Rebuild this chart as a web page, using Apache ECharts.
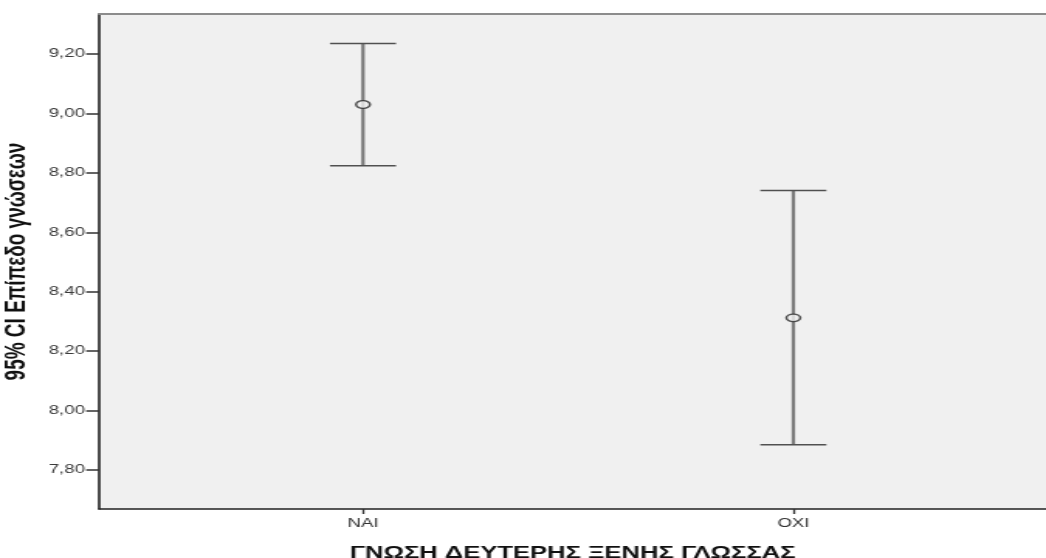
<!DOCTYPE html>
<html>
<head>
<meta charset="utf-8">
<script src="https://cdn.jsdelivr.net/npm/echarts@6/dist/echarts.min.js"></script>
<style>
  html, body { margin: 0; padding: 0; background: #ffffff; overflow: hidden; }
  /* chart drawn at a narrower width and widened horizontally */
  #chart { width: 675px; height: 558px; transform: scaleX(1.5496); transform-origin: 0 0; }
</style>
</head>
<body>
<div id="chart"></div>
<script>
// Group labels and 95% confidence intervals of the mean knowledge score
const categories = ['NAI', 'OXI'];
const means = [9.03, 8.312];
const lowerCI = [8.824, 7.885];
const upperCI = [9.235, 8.741];
const yTicks = [7.8, 8.0, 8.2, 8.4, 8.6, 8.8, 9.0, 9.2];
const xTitle = 'ΓΝΩΣΗ ΔΕΥΤΕΡΗΣ ΞΕΝΗΣ ΓΛΩΣΣΑΣ';
const yTitle = '95% CI Επίπεδο γνώσεων';

const FONT = '"Liberation Sans", Arial, sans-serif';
const xPos = categories.map((_, i) => i + 1);
const xMin = 0.387, xMax = 2.587;
const yMin = 7.6687, yMax = 9.3346;

const intervalData = categories.map((_, i) => [xPos[i], lowerCI[i], upperCI[i]]);
const meanData = categories.map((_, i) => [xPos[i], means[i]]);

const chart = echarts.init(document.getElementById('chart'), null, { renderer: 'canvas' });

chart.setOption({
  animation: false,
  backgroundColor: '#ffffff',
  grid: {
    left: 64, right: 0, top: 14, bottom: 49,
    outerBoundsMode: 'none',
    containLabel: false,
    show: true, backgroundColor: '#f0f0f0', borderWidth: 0
  },
  xAxis: [{
    type: 'value',
    min: xMin, max: xMax,
    name: xTitle,
    nameLocation: 'middle',
    nameGap: 36,
    nameTextStyle: { fontFamily: FONT, fontSize: 16.5, fontWeight: 'bold', color: '#111111' },
    axisLine: { show: true, lineStyle: { color: '#222222', width: 1.5 } },
    axisTick: { show: true, length: 5, customValues: xPos, lineStyle: { color: '#333333', width: 1.3 } },
    axisLabel: {
      customValues: xPos,
      margin: 9,
      fontFamily: FONT, fontSize: 12, color: '#333333',
      formatter: v => categories[Math.round(v) - 1] || ''
    },
    splitLine: { show: false }
  }, {
    // top border of the plotting area
    type: 'value',
    position: 'top',
    min: xMin, max: xMax,
    axisLine: { show: true, lineStyle: { color: '#8c8c8c', width: 2 } },
    axisTick: { show: false },
    axisLabel: { show: false },
    splitLine: { show: false }
  }],
  yAxis: {
    type: 'value',
    min: yMin, max: yMax,
    name: yTitle,
    nameLocation: 'middle',
    nameGap: 43,
    nameRotate: 90,
    nameTextStyle: { fontFamily: FONT, fontSize: 19, fontWeight: 'bold', color: '#111111' },
    axisLine: { show: true, lineStyle: { color: '#222222', width: 1.6 } },
    axisTick: { show: true, length: 8.4, customValues: yTicks, lineStyle: { color: '#333333', width: 1.5 } },
    axisLabel: {
      customValues: yTicks,
      margin: 9.2,
      fontFamily: FONT, fontSize: 12, color: '#3a3a3a',
      formatter: v => v.toFixed(2).replace('.', ',')
    },
    splitLine: { show: false }
  },
  series: [{
    type: 'custom',
    name: 'CI',
    xAxisIndex: 0,
    data: intervalData,
    z: 2,
    renderItem: function (params, api) {
      const x = api.value(0);
      const lo = api.coord([x, api.value(1)]);
      const hi = api.coord([x, api.value(2)]);
      const half = 21.3;
      return {
        type: 'group',
        children: [{
          type: 'line',
          shape: { x1: lo[0], y1: lo[1], x2: hi[0], y2: hi[1] },
          style: { stroke: '#7a7a7a', lineWidth: 2.2 }
        }, {
          type: 'line',
          shape: { x1: hi[0] - half, y1: hi[1], x2: hi[0] + half, y2: hi[1] },
          style: { stroke: '#505050', lineWidth: 1.5 }
        }, {
          type: 'line',
          shape: { x1: lo[0] - half, y1: lo[1], x2: lo[0] + half, y2: lo[1] },
          style: { stroke: '#505050', lineWidth: 1.5 }
        }]
      };
    }
  }, {
    type: 'scatter',
    name: 'Mean',
    xAxisIndex: 0,
    data: meanData,
    z: 3,
    symbol: 'circle',
    symbolSize: [9, 7.6],
    itemStyle: { color: '#f0f0f0', borderColor: '#2a2a2a', borderWidth: 1.4 }
  }]
});
</script>
</body>
</html>
